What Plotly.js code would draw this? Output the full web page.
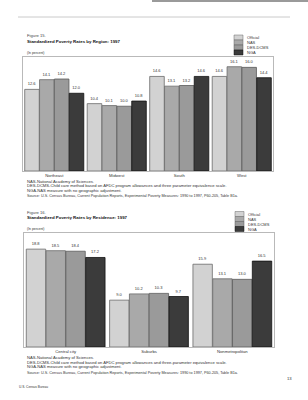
<!DOCTYPE html>
<html><head><meta charset="utf-8">
<script src="https://cdn.plot.ly/plotly-3.0.1.min.js"></script>
<style>html,body{margin:0;padding:0;background:#fff}#chart{width:308px;height:400px}</style>
</head><body><div id="chart"></div>
<script>
// ---- data ----
const seriesNames = ["Official", "NAS", "DES-DCMS", "NGA"];
const regions = ["Northeast", "Midwest", "South", "West"];
const regionOfficial = [12.6, 10.4, 14.6, 14.6];
const regionNAS      = [14.1, 10.1, 13.1, 16.1];
const regionDES      = [14.2, 10.0, 13.2, 16.0];
const regionNGA      = [12.0, 10.8, 14.6, 14.4];
const residences = ["Central city", "Suburbs", "Nonmetropolitan"];
const resOfficial = [18.8, 9.0, 15.9];
const resNAS      = [18.5, 10.2, 13.1];
const resDES      = [18.4, 10.3, 13.0];
const resNGA      = [17.2, 9.7, 16.5];

// ---- styles ----
const W = 308, H = 400;
const px = v => v / W, py = v => 1 - v / H;
const fills = ["#d2d2d2", "#a9a9a9", "#9a9a9a", "#3b3b3b"];
const edges = ["#6a6a6a", "#6a6a6a", "#5a5a5a", "#111111"];
const FONT = "Liberation Sans, Arial, sans-serif";

function mk(x, y, i, xa, ya) {
  return {
    type: "bar", x: x, y: y, name: seriesNames[i], xaxis: xa, yaxis: ya,
    marker: {color: fills[i], line: {color: edges[i], width: 0.8}},
    text: y.map(v => v.toFixed(1)), textposition: "outside",
    textfont: {family: FONT, size: 4, color: "#333"},
    constraintext: "none", cliponaxis: false, showlegend: false,
    hoverinfo: "skip"
  };
}
const regionSeries = [regionOfficial, regionNAS, regionDES, regionNGA];
const resSeries = [resOfficial, resNAS, resDES, resNGA];
const data = [];
regionSeries.forEach((s, i) => data.push(mk(regions, s, i, "x", "y")));
resSeries.forEach((s, i) => data.push(mk(residences, s, i, "x2", "y2")));

const axisX = dom => ({
  domain: dom, showline: true, mirror: true, linecolor: "#a8a8a8", linewidth: 0.8,
  ticks: "", showgrid: false, zeroline: false, fixedrange: true,
  tickfont: {family: FONT, size: 4.2, color: "#333"}
});
const axisY = (dom, r) => ({
  domain: dom, range: r, showline: true, mirror: true, linecolor: "#a8a8a8", linewidth: 0.8,
  showticklabels: false, ticks: "", showgrid: false, zeroline: false, fixedrange: true
});

const shapes = [
  {type: "rect", xref: "paper", yref: "paper", x0: px(152), x1: px(308), y0: py(0), y1: py(2),
   fillcolor: "#9a9a9a", line: {width: 0}},
  {type: "line", xref: "paper", yref: "paper", x0: px(18), x1: px(290), y0: py(17), y1: py(17),
   line: {color: "#bdbdbd", width: 0.8}}
];
const annotations = [];
function note(x, y, t, size, opts) {
  annotations.push(Object.assign({
    xref: "paper", yref: "paper", x: px(x), y: py(y), text: t, showarrow: false,
    xanchor: "left", yanchor: "middle",
    font: {family: FONT, size: size, color: "#333"}
  }, opts || {}));
}
function legendBlock(x, yTop) {
  seriesNames.forEach((n, i) => {
    shapes.push({type: "rect", xref: "paper", yref: "paper",
      x0: px(x), x1: px(x + 9), y0: py(yTop + i * 5), y1: py(yTop + i * 5 + 5),
      fillcolor: fills[i], line: {color: edges[i], width: 0.5}});
    note(x + 11, yTop + i * 5 + 2.6, n, 4);
  });
}
legendBlock(234, 35);
legendBlock(235, 211.5);

const NF = 4.15, SF = 3.75;
note(25, 35, "Figure 15.", 4.2, {font: {family: FONT, size: 4.2, color: "#444"}});
note(25, 41.5, "<b>Standardized Poverty Rates by Region: 1997</b>", 4.4, {font: {family: FONT, size: 4.4, color: "#111"}});
note(25, 53, "(In percent)", 3.4);
note(25, 181, "NAS-National Academy of Sciences.", NF);
note(25, 185.7, "DES-DCMS-Child care method based on AFDC program allowances and three parameter equivalence scale.", NF);
note(25, 190.2, "NGA-NAS measure with no geographic adjustment.", NF);
note(25, 195.5, "Source: U.S. Census Bureau, Current Population Reports, Experimental Poverty Measures: 1990 to 1997, P60-205, Table B1a.", SF);

note(25, 212, "Figure 16.", 4.2, {font: {family: FONT, size: 4.2, color: "#444"}});
note(25, 217.5, "<b>Standardized Poverty Rates by Residence: 1997</b>", 4.4, {font: {family: FONT, size: 4.4, color: "#111"}});
note(25, 229, "(In percent)", 3.4);
note(25, 357, "NAS-National Academy of Sciences.", NF);
note(25, 362, "DES-DCMS-Child care method based on AFDC program allowances and three-parameter equivalence scale.", NF);
note(25, 366.5, "NGA-NAS measure with no geographic adjustment.", NF);
note(25, 373, "Source: U.S. Census Bureau, Current Population Reports, Experimental Poverty Measures: 1990 to 1997, P60-205, Table B1a.", SF);

note(285, 378.5, "13", 4.2);
note(17, 386.5, "U.S. Census Bureau", 3.2);

const layout = {
  width: W, height: H, margin: {l: 0, r: 0, t: 0, b: 0},
  paper_bgcolor: "#ffffff", plot_bgcolor: "#ffffff",
  barmode: "group", bargap: 0.05, bargroupgap: 0.02,
  xaxis: axisX([px(23), px(273)]),
  yaxis: axisY([py(171), py(57)], [0, 17.6]),
  xaxis2: Object.assign(axisX([px(24), px(274)]), {anchor: "y2"}),
  yaxis2: Object.assign(axisY([py(347), py(233)], [0, 21.9]), {anchor: "x2"}),
  shapes: shapes, annotations: annotations, showlegend: false
};
layout.xaxis.anchor = "y";
layout.yaxis.anchor = "x";
Plotly.newPlot("chart", data, layout, {staticPlot: true, displayModeBar: false});
</script>
</body></html>
